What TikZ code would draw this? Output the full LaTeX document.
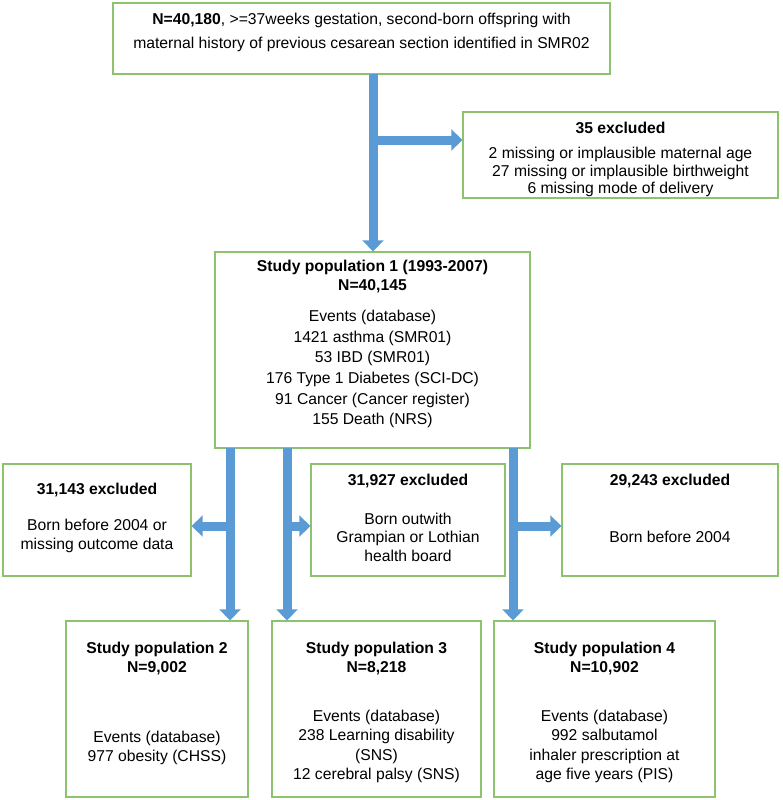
\documentclass[tikz,border=0pt]{standalone}
\usepackage{fontspec}
\setmainfont{Liberation Sans}
\usetikzlibrary{arrows.meta}
\definecolor{bgreen}{HTML}{8DC26F}
\definecolor{ablue}{HTML}{5B9BD5}
\begin{document}
\begin{tikzpicture}[x=1pt,y=-1pt,
  box/.style={draw=bgreen,line width=1.3pt,fill=white,inner sep=0pt},
  txt/.style={align=center,font=\fontsize{15.7}{17.5}\selectfont,inner sep=0pt},
  barrow/.style={draw=ablue,line width=9pt,-{Triangle[width=21pt,length=11pt]}}]
\useasboundingbox (0,0) rectangle (783,800);
% boxes
\node[box,minimum width=497pt,minimum height=71pt] (top) at (361.5,38.5) {};
\node[box,minimum width=315pt,minimum height=86pt] (ex1) at (620.5,155) {};
\node[box,minimum width=315pt,minimum height=196pt] (p1) at (372.5,350) {};
\node[box,minimum width=188pt,minimum height=112pt] (ex2) at (97,520) {};
\node[box,minimum width=194pt,minimum height=112pt] (ex3) at (408,520) {};
\node[box,minimum width=216pt,minimum height=112pt] (ex4) at (670,520) {};
\node[box,minimum width=182pt,minimum height=176pt] (p2) at (157,709) {};
\node[box,minimum width=209pt,minimum height=176pt] (p3) at (376.5,709) {};
\node[box,minimum width=221pt,minimum height=176pt] (p4) at (604.5,709) {};
% texts
\node[txt,font=\fontsize{15.7}{24}\selectfont] (ttop) at (361.5,32) {\textbf{N=40,180}, >=37weeks gestation, second-born offspring with\\maternal history of previous cesarean section identified in SMR02};
\node[txt] (t1a) at (620.5,128) {\textbf{35 excluded}};
\node[txt] (t1b) at (620.5,172) {2 missing or implausible maternal age\\27 missing or implausible birthweight\\6 missing mode of delivery};
\node[txt,font=\fontsize{15.7}{19}\selectfont] (tp1a) at (372.5,277) {\textbf{Study population 1 (1993-2007)}\\\textbf{N=40,145}};
\node[txt,font=\fontsize{15.7}{20.7}\selectfont] (tp1b) at (372.5,369) {Events (database)\\1421 asthma (SMR01)\\53 IBD (SMR01)\\176 Type 1 Diabetes (SCI-DC)\\91 Cancer (Cancer register)\\155 Death (NRS)};
\node[txt] (t2a) at (97,490) {\textbf{31,143 excluded}};
\node[txt,font=\fontsize{15.7}{19}\selectfont] (t2b) at (97,536) {Born before 2004 or\\missing outcome data};
\node[txt] (t3a) at (408,481) {\textbf{31,927 excluded}};
\node[txt,font=\fontsize{15.7}{18.5}\selectfont] (t3b) at (408,537) {Born outwith\\Grampian or Lothian\\health board};
\node[txt] (t4a) at (670,481) {\textbf{29,243 excluded}};
\node[txt] (t4b) at (670,537) {Born before 2004};
\node[txt,font=\fontsize{15.7}{19}\selectfont] (tp2a) at (157,658.5) {\textbf{Study population 2}\\\textbf{N=9,002}};
\node[txt,font=\fontsize{15.7}{19}\selectfont] (tp2b) at (157,747.5) {Events (database)\\977 obesity (CHSS)};
\node[txt,font=\fontsize{15.7}{19}\selectfont] (tp3a) at (376.5,658.5) {\textbf{Study population 3}\\\textbf{N=8,218}};
\node[txt,font=\fontsize{15.7}{19.5}\selectfont] (tp3b) at (376.5,746.5) {Events (database)\\238 Learning disability\\(SNS)\\12 cerebral palsy (SNS)};
\node[txt,font=\fontsize{15.7}{19}\selectfont] (tp4a) at (604.5,658.5) {\textbf{Study population 4}\\\textbf{N=10,902}};
\node[txt,font=\fontsize{15.7}{19.5}\selectfont] (tp4b) at (604.5,746.5) {Events (database)\\992 salbutamol\\inhaler prescription at\\age five years (PIS)};
% connector coordinates
\coordinate (ma) at (373,74);
\coordinate (mb) at (373,140);
\coordinate (a2) at (230,448); \coordinate (b2) at (230,526);
\coordinate (a3) at (287,448); \coordinate (b3) at (287,526);
\coordinate (a4) at (513,448); \coordinate (b4) at (513,526);
% arrows
\draw[barrow] (ma) -- (ma |- p1.north);
\draw[barrow] (mb) -- (mb -| ex1.west);
\draw[barrow] (a2) -- (a2 |- p2.north);
\draw[barrow] (a3) -- (a3 |- p3.north);
\draw[barrow] (a4) -- (a4 |- p4.north);
\draw[barrow] (b2) -- (b2 -| ex2.east);
\draw[barrow] (b3) -- (b3 -| ex3.west);
\draw[barrow] (b4) -- (b4 -| ex4.west);
\end{tikzpicture}
\end{document}
